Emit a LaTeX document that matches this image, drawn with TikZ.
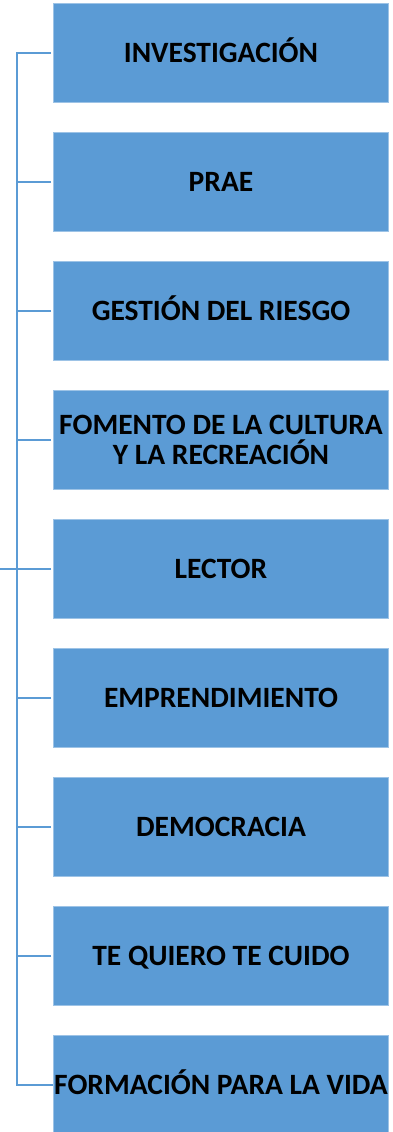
\documentclass[tikz,border=0pt]{standalone}
\usepackage{xcolor}
\usepackage{fontspec}
\setmainfont{Carlito}
\usepackage{tikz}
\usetikzlibrary{positioning}

\definecolor{projblue}{HTML}{5B9BD5}
\definecolor{edgeblue}{HTML}{9DC3E6}

\begin{document}
\begin{tikzpicture}[
        x=1pt, y=-1pt,
        proj/.style={rectangle, draw=edgeblue, line width=0.8pt, fill=projblue, minimum width=335pt, minimum height=99pt, align=center, inner sep=0pt},
        projline/.style={proj, text height=19pt, text depth=0pt},
        link/.style={draw=projblue, line width=2pt, shorten <=2pt},
        every node/.style={font=\fontsize{29.5}{30}\selectfont\bfseries}
    ]
        \useasboundingbox (0,0) rectangle (393,1132);

        % Nodes
        \node[projline] (inv) at (221,53) {INVESTIGACIÓN};
        \node[projline] (prae) at (221,182) {PRAE};
        \node[projline] (riesgo) at (221,311) {GESTIÓN DEL RIESGO};
        \node[proj] (cultura) at (221,440) {FOMENTO DE LA CULTURA\\Y LA RECREACIÓN};
        \node[projline] (lector) at (221,569) {LECTOR};
        \node[projline] (empr) at (221,698) {EMPRENDIMIENTO};
        \node[projline] (demo) at (221,827) {DEMOCRACIA};
        \node[projline] (cuido) at (221,956) {TE QUIERO TE CUIDO};
        \node[projline] (vida) at (221,1085) {FORMACIÓN PARA LA VIDA};

        \coordinate (trunk) at (17,0);
        \coordinate (root) at (0,569);

        % Edges
        \draw[link] (inv.west) -- (inv.west -| trunk) -- (vida.west -| trunk) -- (vida.west);
        \draw[link] (prae.west) -- (prae.west -| trunk);
        \draw[link] (riesgo.west) -- (riesgo.west -| trunk);
        \draw[link] (cultura.west) -- (cultura.west -| trunk);
        \draw[link] (lector.west) -- (root);
        \draw[link] (empr.west) -- (empr.west -| trunk);
        \draw[link] (demo.west) -- (demo.west -| trunk);
        \draw[link] (cuido.west) -- (cuido.west -| trunk);

    \end{tikzpicture}
\end{document}
